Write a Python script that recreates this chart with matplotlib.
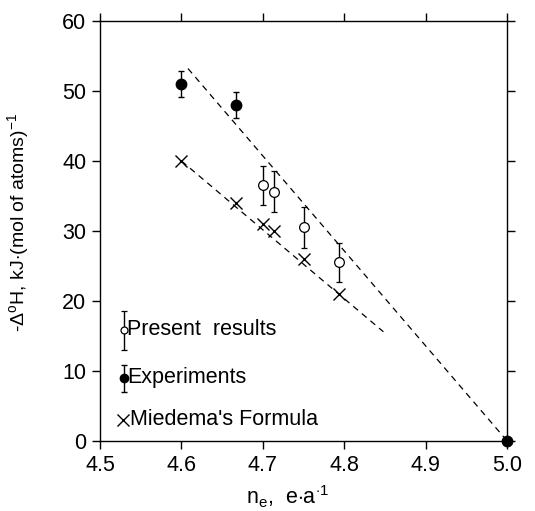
import matplotlib
matplotlib.use("Agg")
import matplotlib.pyplot as plt

plt.rcParams['font.family'] = ['Liberation Sans', 'DejaVu Sans']
plt.rcParams['mathtext.fontset'] = 'custom'
plt.rcParams['mathtext.rm'] = 'Liberation Sans'
plt.rcParams['mathtext.it'] = 'Liberation Sans'

# Data
exp_x = [4.6, 4.667, 5.0]
exp_y = [51.0, 48.0, 0.0]
exp_err = [1.8, 1.8, 0.0]

pres_x = [4.700, 4.714, 4.750, 4.794]
pres_y = [36.5, 35.6, 30.5, 25.5]
pres_err = [2.85, 2.9, 2.9, 2.8]

mied_x = [4.6, 4.667, 4.700, 4.714, 4.750, 4.794]
mied_y = [40.0, 34.0, 31.0, 30.0, 26.0, 21.0]

upper_line_x = [4.608, 5.0]
upper_line_y = [53.2, 0.0]
lower_line_x = [4.6, 4.848]
lower_line_y = [40.0, 15.6]

xticks = [4.5, 4.6, 4.7, 4.8, 4.9, 5.0]
yticks = [0, 10, 20, 30, 40, 50, 60]

FS = 15.5

fig = plt.figure(figsize=(5.35, 5.11), dpi=100)
ax = fig.add_axes([0.187, 0.137, 0.761, 0.822])

ax.plot(upper_line_x, upper_line_y, ls=(0, (5, 4)), color='black', lw=0.9)
ax.plot(lower_line_x, lower_line_y, ls=(0, (5, 4)), color='black', lw=0.9)

ax.errorbar(exp_x, exp_y, yerr=exp_err, fmt='o', color='black', ms=7.5,
            capsize=2.5, elinewidth=1, capthick=1, clip_on=False, zorder=5)
ax.errorbar(pres_x, pres_y, yerr=pres_err, fmt='o', mfc='white', mec='black',
            color='black', ms=7, mew=0.9, capsize=2.5, elinewidth=1, capthick=1, zorder=5)
ax.plot(mied_x, mied_y, 'x', color='black', ms=9, mew=1.0, zorder=5)

# legend drawn as in the original (manual)
ax.errorbar([4.529], [15.9], yerr=[[2.9], [2.6]], fmt='o', mfc='white', mec='black',
            color='black', ms=5, mew=0.9, capsize=2.5, elinewidth=1, capthick=1)
ax.text(4.533, 15.9, 'Present  results', va='center', ha='left', fontsize=FS)
ax.errorbar([4.529], [9.0], yerr=[[2.0], [1.8]], fmt='o', color='black', ms=6,
            capsize=2.5, elinewidth=1, capthick=1)
ax.text(4.533, 9.0, 'Experiments', va='center', ha='left', fontsize=FS)
ax.plot([4.528], [3.0], 'x', color='black', ms=8, mew=1.0)
ax.text(4.537, 3.0, "Miedema's Formula", va='center', ha='left', fontsize=FS)

ax.set_xlim(4.5, 5.0)
ax.set_ylim(0, 60)
ax.set_xticks(xticks)
ax.set_yticks(yticks)
ax.set_xticklabels([f'{v:.1f}' for v in xticks])
ax.tick_params(axis='both', which='both', direction='out', length=6, width=1,
               labelsize=FS, top=True, right=True, pad=4)
for s in ax.spines.values():
    s.set_linewidth(1.0)

ax.set_xlabel(r'n$_e$,  e$\cdot$a$^{\cdot1}$', fontsize=FS)
ax.xaxis.label.set_verticalalignment('bottom')
ax.xaxis.set_label_coords(0.46, -0.165)
ax.set_ylabel(r'-$\Delta^{\rm o}$H, kJ$\cdot$(mol of atoms)$^{-1}$', fontsize=14)
ax.yaxis.set_label_coords(-0.17, 0.52)

fig.savefig('out.png', dpi=100)
